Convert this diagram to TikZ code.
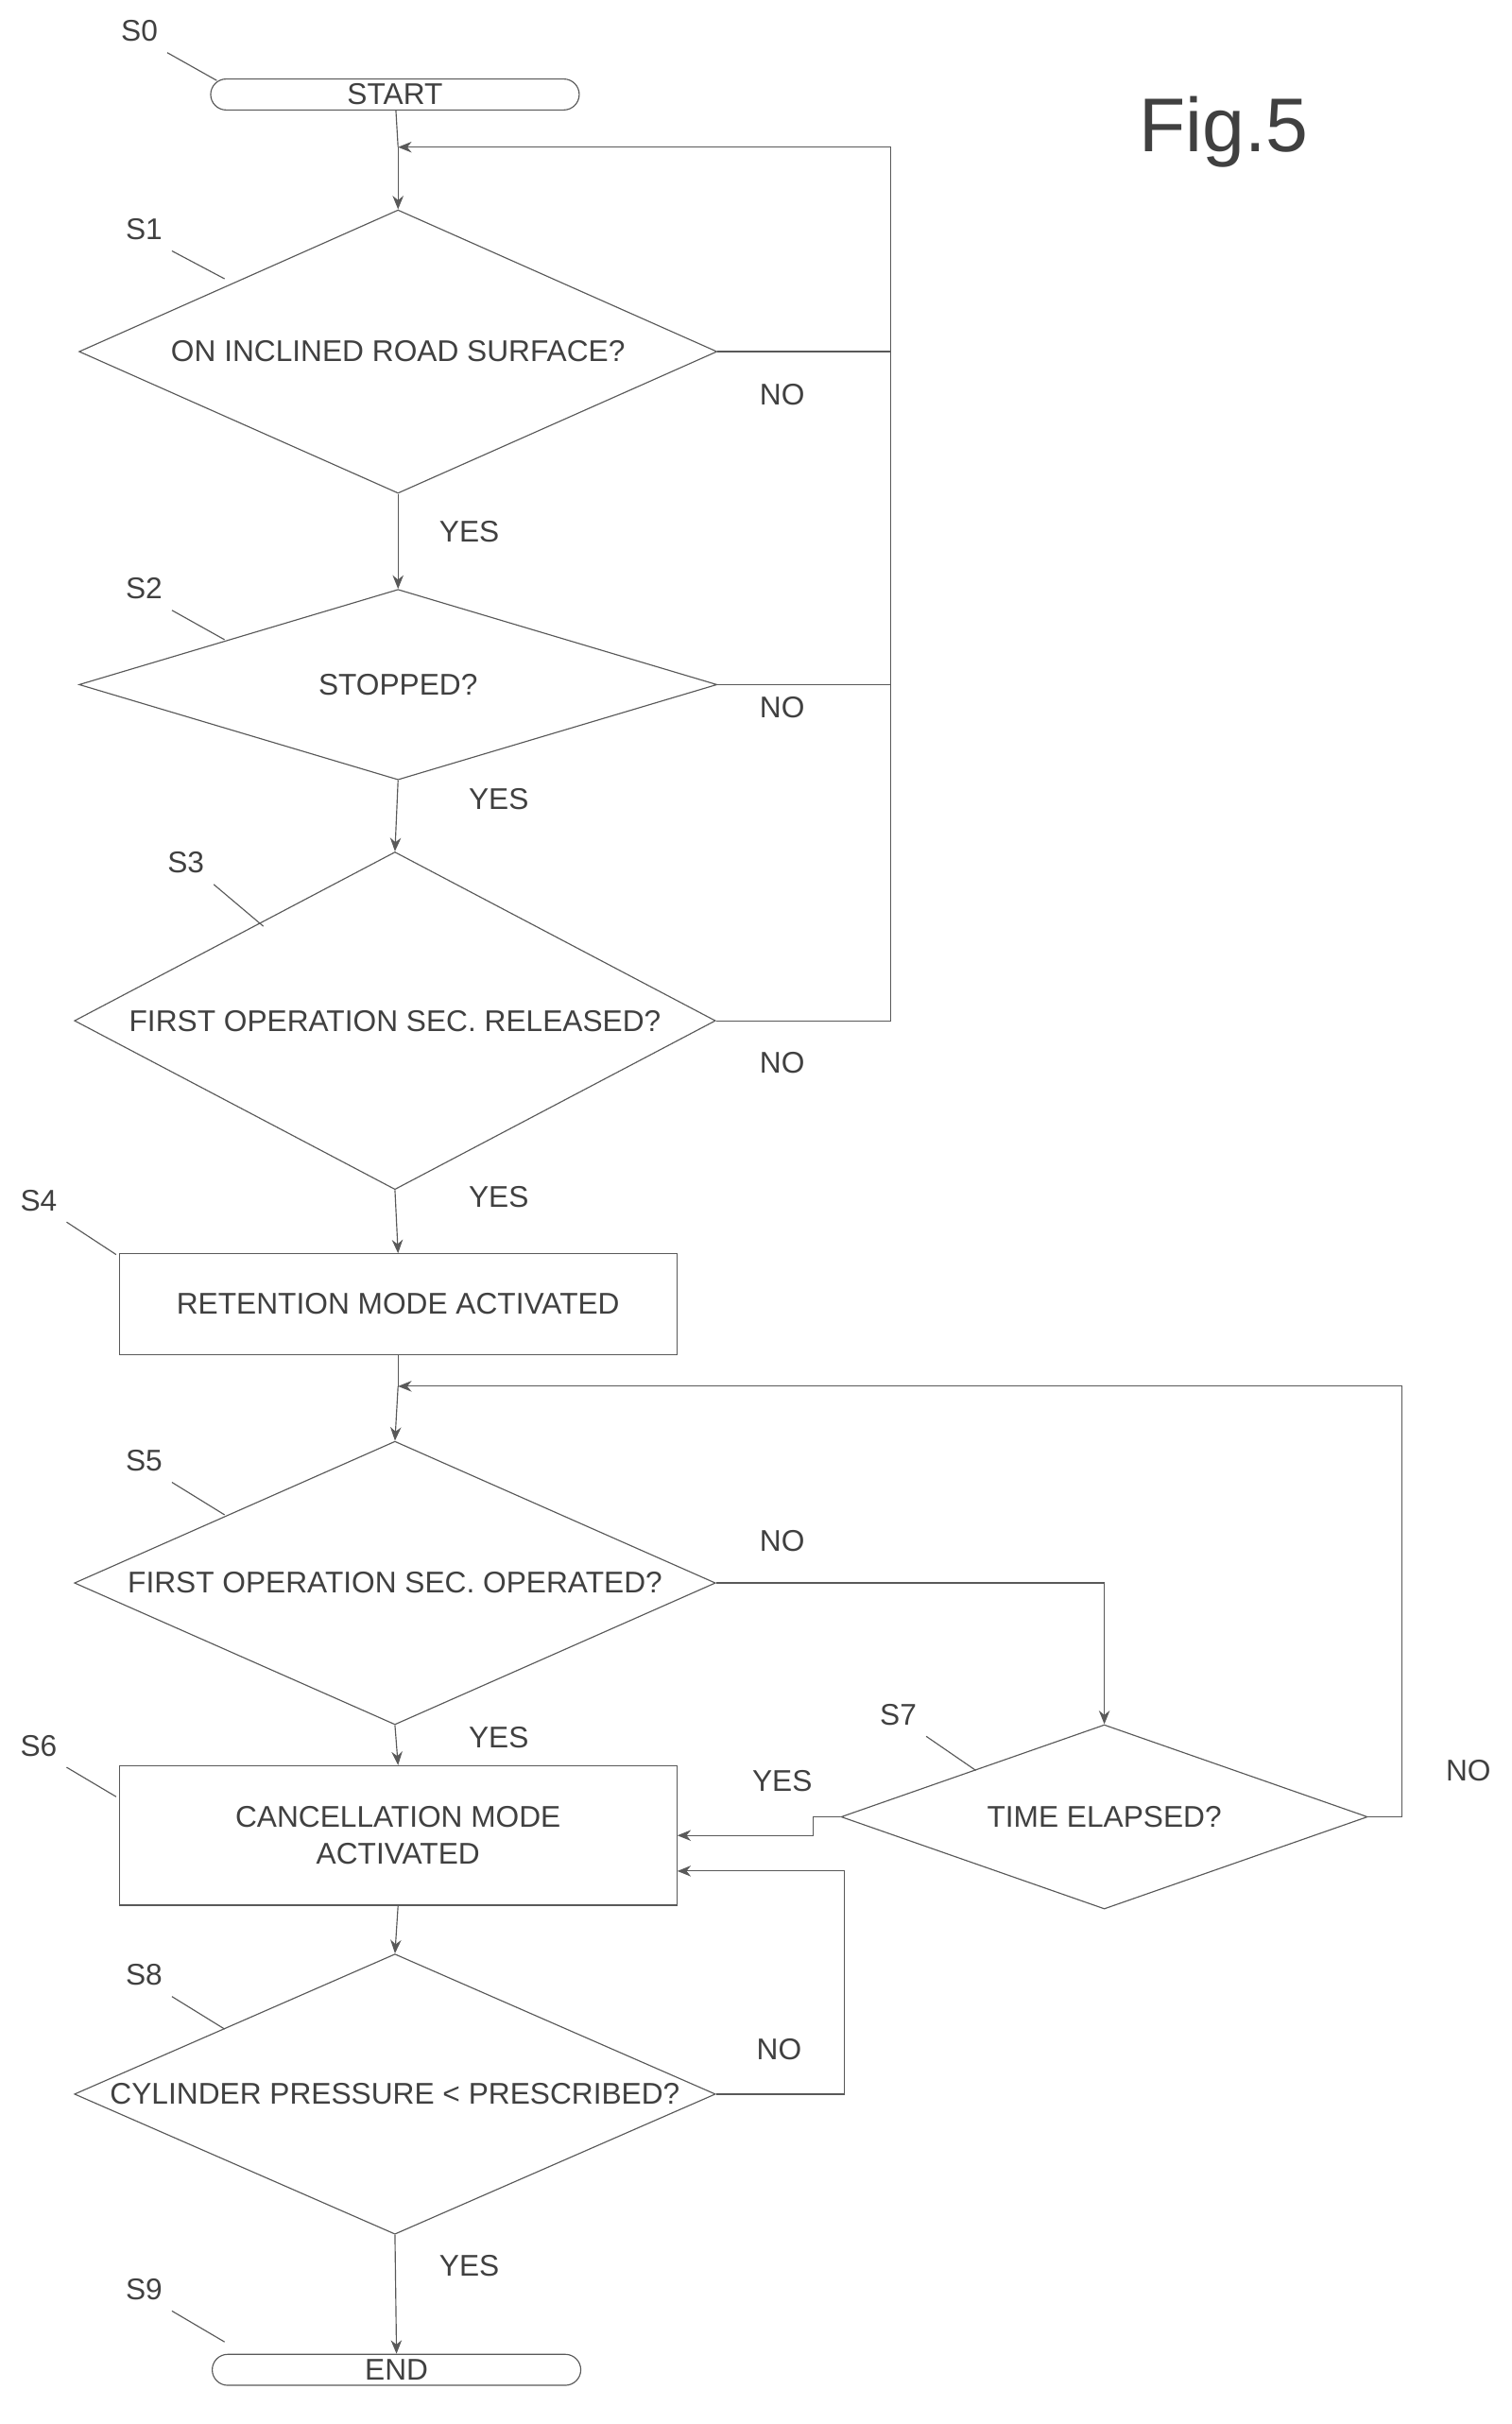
\documentclass[tikz,border=0pt]{standalone}
\usepackage{fontspec}
\setmainfont{Liberation Sans}
\usetikzlibrary{shapes.geometric, arrows.meta}

\begin{document}
\begin{tikzpicture}[
    x=0.02cm, y=-0.02cm,
    every node/.style={font=\fontsize{11}{13.5}\selectfont, text=black!75},
    % step shapes
    dec/.style={diamond, draw=black!65, thin, inner sep=0pt},
    box/.style={rectangle, draw=black!65, thin, align=center,
        minimum width=7.2cm, inner sep=0pt},
    term/.style={rectangle, rounded corners=0.2cm, draw=black!65, thin,
        minimum width=4.76cm, minimum height=0.4cm, inner sep=0pt},
    % connectors
    flow/.style={-{Stealth[length=5pt,width=4pt]}, black!65, thin},
    line/.style={black!65, thin},
    tag/.style={black!65, thin}
]
\useasboundingbox (0,0) rectangle (976,1565);

\node at (790,85) {\fontsize{28}{30}\selectfont Fig.5};

% start
\node (s0) [term] at (255,61) {START};

% S1 - S3
\node (s1) [dec, minimum width=8.24cm, minimum height=3.66cm] at (257,227) {};
\node at (s1) {ON INCLINED ROAD SURFACE?};
\node (s2) [dec, minimum width=8.24cm, minimum height=2.46cm] at (257,442) {};
\node at (s2) {STOPPED?};
\node (s3) [dec, minimum width=8.28cm, minimum height=4.36cm] at (255,659) {};
\node at (s3) {FIRST OPERATION SEC. RELEASED?};

% S4
\node (s4) [box, minimum height=1.3cm] at (257,842) {RETENTION MODE ACTIVATED};

% S5 - S8
\node (s5) [dec, minimum width=8.28cm, minimum height=3.66cm] at (255,1022) {};
\node at (s5) {FIRST OPERATION SEC. OPERATED?};
\node (s6) [box, minimum height=1.8cm] at (257,1185) {CANCELLATION MODE\\ACTIVATED};
\node (s7) [dec, minimum width=6.8cm, minimum height=2.38cm] at (713,1173) {};
\node at (s7) {TIME ELAPSED?};
\node (s8) [dec, minimum width=8.28cm, minimum height=3.62cm] at (255,1352) {};
\node at (s8) {CYLINDER PRESSURE < PRESCRIBED?};

% end
\node (s9) [term] at (256,1530) {END};

% join points
\coordinate (j1) at (257,95);
\coordinate (j2) at (257,895);

% main flow
\draw [line] (s0) -- (j1);
\draw [flow] (j1) -- (s1.north);
\draw [flow] (s1.south) -- (s2.north);
\draw [flow] (s2.south) -- (s3.north);
\draw [flow] (s3.south) -- (s4.north);
\draw [line] (s4.south) -- (j2);
\draw [flow] (j2) -- (s5.north);
\draw [flow] (s5.south) -- (s6.north);
\draw [flow] (s6.south) -- (s8.north);
\draw [flow] (s8.south) -- (s9.north);

% loops
\draw [flow] (s1.east) -| (575,95) -- (j1);
\draw [line] (s2.east) -- (575,442);
\draw [line] (s3.east) -| (575,227);
\draw [flow] (s5.east) -| (s7.north);
\draw [flow] (s7.east) -| (905,895) -- (j2);
\draw [flow] (s7.west) -- (525,1173) |- (s6.east);
\draw [flow] (s8.east) -| (545,1208) -- (s6.east |- 0,1208);

% answers
\node at (505,255) {NO};
\node at (303,343) {YES};
\node at (505,457) {NO};
\node at (322,516) {YES};
\node at (505,686) {NO};
\node at (322,773) {YES};
\node at (505,995) {NO};
\node at (322,1122) {YES};
\node at (505,1150) {YES};
\node at (948,1143) {NO};
\node at (503,1323) {NO};
\node at (303,1463) {YES};

% step tags
\foreach \t/\x/\y/\ex/\ey in {S0/90/20/140/52, S1/93/148/145/180,
    S2/93/380/145/413, S3/120/557/170/598, S4/25/775/75/810,
    S5/93/943/145/978, S6/25/1127/75/1160, S7/580/1107/630/1143,
    S8/93/1275/145/1310, S9/93/1478/145/1512}{
  \node (t\t) at (\x,\y) {\t};
  \draw [tag] (\x+18,\y+14) -- (\ex,\ey);
}
\end{tikzpicture}
\end{document}
